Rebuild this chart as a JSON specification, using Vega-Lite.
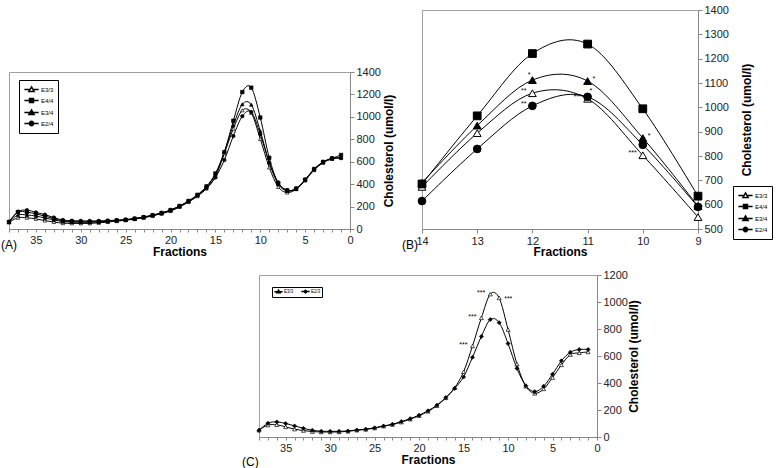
{
  "$schema": "https://vega.github.io/schema/vega-lite/v6.json",
  "padding": {"left": 0, "top": 3, "right": 0, "bottom": 0},
  "background": "white",
  "config": {
    "font": "Liberation Sans",
    "view": {"stroke": "#a0a0a0"},
    "axis": {"labelFont": "Liberation Sans", "labelFontSize": 11, "labelColor": "#222", "titleFont": "Liberation Sans", "titleFontSize": 12, "titleFontWeight": "bold", "titleColor": "black", "domainColor": "#888", "tickColor": "#888", "grid": false, "labelFlush": false, "labelOverlap": false},
    "title": {"font": "Liberation Sans", "fontWeight": "normal", "fontSize": 12, "color": "black"},
    "legend": {"labelFont": "Liberation Sans", "labelColor": "black"}
  },
  "resolve": {"scale": {"shape": "independent", "fill": "independent"}, "legend": {"shape": "independent", "fill": "independent"}},
  "datasets": {
    "A": [
      {"f":38,"s":"E3/3","v":60},{"f":37,"s":"E3/3","v":100},{"f":36,"s":"E3/3","v":100},{"f":35,"s":"E3/3","v":90},{"f":34,"s":"E3/3","v":75},{"f":33,"s":"E3/3","v":62},{"f":32,"s":"E3/3","v":52},{"f":31,"s":"E3/3","v":50},{"f":30,"s":"E3/3","v":50},{"f":29,"s":"E3/3","v":50},{"f":28,"s":"E3/3","v":55},{"f":27,"s":"E3/3","v":62},{"f":26,"s":"E3/3","v":70},{"f":25,"s":"E3/3","v":78},{"f":24,"s":"E3/3","v":88},{"f":23,"s":"E3/3","v":100},{"f":22,"s":"E3/3","v":117},{"f":21,"s":"E3/3","v":137},{"f":20,"s":"E3/3","v":160},{"f":19,"s":"E3/3","v":196},{"f":18,"s":"E3/3","v":240},{"f":17,"s":"E3/3","v":292},{"f":16,"s":"E3/3","v":360},{"f":15,"s":"E3/3","v":465},{"f":14,"s":"E3/3","v":673},{"f":13,"s":"E3/3","v":894},{"f":12,"s":"E3/3","v":1058},{"f":11,"s":"E3/3","v":1035},{"f":10,"s":"E3/3","v":803},{"f":9,"s":"E3/3","v":549},{"f":8,"s":"E3/3","v":375},{"f":7,"s":"E3/3","v":325},{"f":6,"s":"E3/3","v":355},{"f":5,"s":"E3/3","v":432},{"f":4,"s":"E3/3","v":525},{"f":3,"s":"E3/3","v":590},{"f":2,"s":"E3/3","v":625},{"f":1,"s":"E3/3","v":635},
      {"f":38,"s":"E4/4","v":62},{"f":37,"s":"E4/4","v":150},{"f":36,"s":"E4/4","v":150},{"f":35,"s":"E4/4","v":135},{"f":34,"s":"E4/4","v":115},{"f":33,"s":"E4/4","v":92},{"f":32,"s":"E4/4","v":72},{"f":31,"s":"E4/4","v":66},{"f":30,"s":"E4/4","v":64},{"f":29,"s":"E4/4","v":64},{"f":28,"s":"E4/4","v":66},{"f":27,"s":"E4/4","v":70},{"f":26,"s":"E4/4","v":76},{"f":25,"s":"E4/4","v":82},{"f":24,"s":"E4/4","v":92},{"f":23,"s":"E4/4","v":105},{"f":22,"s":"E4/4","v":122},{"f":21,"s":"E4/4","v":142},{"f":20,"s":"E4/4","v":168},{"f":19,"s":"E4/4","v":205},{"f":18,"s":"E4/4","v":250},{"f":17,"s":"E4/4","v":305},{"f":16,"s":"E4/4","v":380},{"f":15,"s":"E4/4","v":495},{"f":14,"s":"E4/4","v":685},{"f":13,"s":"E4/4","v":965},{"f":12,"s":"E4/4","v":1221},{"f":11,"s":"E4/4","v":1260},{"f":10,"s":"E4/4","v":994},{"f":9,"s":"E4/4","v":635},{"f":8,"s":"E4/4","v":410},{"f":7,"s":"E4/4","v":345},{"f":6,"s":"E4/4","v":360},{"f":5,"s":"E4/4","v":440},{"f":4,"s":"E4/4","v":535},{"f":3,"s":"E4/4","v":598},{"f":2,"s":"E4/4","v":630},{"f":1,"s":"E4/4","v":660},
      {"f":38,"s":"E3/4","v":62},{"f":37,"s":"E3/4","v":125},{"f":36,"s":"E3/4","v":125},{"f":35,"s":"E3/4","v":115},{"f":34,"s":"E3/4","v":98},{"f":33,"s":"E3/4","v":82},{"f":32,"s":"E3/4","v":66},{"f":31,"s":"E3/4","v":62},{"f":30,"s":"E3/4","v":60},{"f":29,"s":"E3/4","v":60},{"f":28,"s":"E3/4","v":63},{"f":27,"s":"E3/4","v":68},{"f":26,"s":"E3/4","v":74},{"f":25,"s":"E3/4","v":80},{"f":24,"s":"E3/4","v":90},{"f":23,"s":"E3/4","v":103},{"f":22,"s":"E3/4","v":120},{"f":21,"s":"E3/4","v":140},{"f":20,"s":"E3/4","v":165},{"f":19,"s":"E3/4","v":202},{"f":18,"s":"E3/4","v":247},{"f":17,"s":"E3/4","v":300},{"f":16,"s":"E3/4","v":372},{"f":15,"s":"E3/4","v":485},{"f":14,"s":"E3/4","v":690},{"f":13,"s":"E3/4","v":925},{"f":12,"s":"E3/4","v":1112},{"f":11,"s":"E3/4","v":1108},{"f":10,"s":"E3/4","v":874},{"f":9,"s":"E3/4","v":594},{"f":8,"s":"E3/4","v":400},{"f":7,"s":"E3/4","v":340},{"f":6,"s":"E3/4","v":358},{"f":5,"s":"E3/4","v":438},{"f":4,"s":"E3/4","v":530},{"f":3,"s":"E3/4","v":595},{"f":2,"s":"E3/4","v":628},{"f":1,"s":"E3/4","v":640},
      {"f":38,"s":"E2/4","v":65},{"f":37,"s":"E2/4","v":155},{"f":36,"s":"E2/4","v":168},{"f":35,"s":"E2/4","v":148},{"f":34,"s":"E2/4","v":128},{"f":33,"s":"E2/4","v":102},{"f":32,"s":"E2/4","v":80},{"f":31,"s":"E2/4","v":74},{"f":30,"s":"E2/4","v":72},{"f":29,"s":"E2/4","v":72},{"f":28,"s":"E2/4","v":72},{"f":27,"s":"E2/4","v":75},{"f":26,"s":"E2/4","v":79},{"f":25,"s":"E2/4","v":84},{"f":24,"s":"E2/4","v":94},{"f":23,"s":"E2/4","v":107},{"f":22,"s":"E2/4","v":124},{"f":21,"s":"E2/4","v":144},{"f":20,"s":"E2/4","v":170},{"f":19,"s":"E2/4","v":205},{"f":18,"s":"E2/4","v":248},{"f":17,"s":"E2/4","v":300},{"f":16,"s":"E2/4","v":365},{"f":15,"s":"E2/4","v":460},{"f":14,"s":"E2/4","v":615},{"f":13,"s":"E2/4","v":829},{"f":12,"s":"E2/4","v":1006},{"f":11,"s":"E2/4","v":1043},{"f":10,"s":"E2/4","v":846},{"f":9,"s":"E2/4","v":591},{"f":8,"s":"E2/4","v":415},{"f":7,"s":"E2/4","v":345},{"f":6,"s":"E2/4","v":362},{"f":5,"s":"E2/4","v":440},{"f":4,"s":"E2/4","v":532},{"f":3,"s":"E2/4","v":598},{"f":2,"s":"E2/4","v":630},{"f":1,"s":"E2/4","v":632}
    ],
    "C": [
      {"f":38,"s":"E3/3","v":50},{"f":37,"s":"E3/3","v":88},{"f":36,"s":"E3/3","v":90},{"f":35,"s":"E3/3","v":75},{"f":34,"s":"E3/3","v":58},{"f":33,"s":"E3/3","v":48},{"f":32,"s":"E3/3","v":40},{"f":31,"s":"E3/3","v":37},{"f":30,"s":"E3/3","v":37},{"f":29,"s":"E3/3","v":37},{"f":28,"s":"E3/3","v":42},{"f":27,"s":"E3/3","v":50},{"f":26,"s":"E3/3","v":56},{"f":25,"s":"E3/3","v":66},{"f":24,"s":"E3/3","v":80},{"f":23,"s":"E3/3","v":92},{"f":22,"s":"E3/3","v":110},{"f":21,"s":"E3/3","v":132},{"f":20,"s":"E3/3","v":158},{"f":19,"s":"E3/3","v":190},{"f":18,"s":"E3/3","v":232},{"f":17,"s":"E3/3","v":290},{"f":16,"s":"E3/3","v":365},{"f":15,"s":"E3/3","v":483},{"f":14,"s":"E3/3","v":674},{"f":13,"s":"E3/3","v":882},{"f":12,"s":"E3/3","v":1058},{"f":11,"s":"E3/3","v":1030},{"f":10,"s":"E3/3","v":796},{"f":9,"s":"E3/3","v":541},{"f":8,"s":"E3/3","v":376},{"f":7,"s":"E3/3","v":323},{"f":6,"s":"E3/3","v":356},{"f":5,"s":"E3/3","v":440},{"f":4,"s":"E3/3","v":534},{"f":3,"s":"E3/3","v":610},{"f":2,"s":"E3/3","v":623},{"f":1,"s":"E3/3","v":630},
      {"f":38,"s":"E2/3","v":50},{"f":37,"s":"E2/3","v":102},{"f":36,"s":"E2/3","v":112},{"f":35,"s":"E2/3","v":100},{"f":34,"s":"E2/3","v":82},{"f":33,"s":"E2/3","v":64},{"f":32,"s":"E2/3","v":50},{"f":31,"s":"E2/3","v":43},{"f":30,"s":"E2/3","v":42},{"f":29,"s":"E2/3","v":42},{"f":28,"s":"E2/3","v":45},{"f":27,"s":"E2/3","v":52},{"f":26,"s":"E2/3","v":58},{"f":25,"s":"E2/3","v":68},{"f":24,"s":"E2/3","v":82},{"f":23,"s":"E2/3","v":95},{"f":22,"s":"E2/3","v":114},{"f":21,"s":"E2/3","v":136},{"f":20,"s":"E2/3","v":162},{"f":19,"s":"E2/3","v":194},{"f":18,"s":"E2/3","v":236},{"f":17,"s":"E2/3","v":292},{"f":16,"s":"E2/3","v":360},{"f":15,"s":"E2/3","v":445},{"f":14,"s":"E2/3","v":590},{"f":13,"s":"E2/3","v":745},{"f":12,"s":"E2/3","v":870},{"f":11,"s":"E2/3","v":847},{"f":10,"s":"E2/3","v":692},{"f":9,"s":"E2/3","v":508},{"f":8,"s":"E2/3","v":380},{"f":7,"s":"E2/3","v":336},{"f":6,"s":"E2/3","v":376},{"f":5,"s":"E2/3","v":465},{"f":4,"s":"E2/3","v":564},{"f":3,"s":"E2/3","v":628},{"f":2,"s":"E2/3","v":648},{"f":1,"s":"E2/3","v":648}
    ],
    "annB": [
      {"f":12,"s":"E3/4","v":1112,"t":"*","side":"ul"},
      {"f":11,"s":"E3/4","v":1108,"t":"*","side":"r"},
      {"f":12,"s":"E3/3","v":1058,"t":"**","side":"l"},
      {"f":12,"s":"E2/4","v":1006,"t":"**","side":"l"},
      {"f":11,"s":"E2/4","v":1043,"t":"*","side":"ur"},
      {"f":11,"s":"E3/3","v":1035,"t":"***","side":"l"},
      {"f":10,"s":"E3/4","v":874,"t":"*","side":"r"},
      {"f":10,"s":"E3/3","v":803,"t":"***","side":"l"}
    ],
    "annC": [
      {"f":14,"s":"E3/3","v":674,"t":"***","side":"l"},
      {"f":13,"s":"E3/3","v":882,"t":"***","side":"l"},
      {"f":12,"s":"E3/3","v":1058,"t":"***","side":"l"},
      {"f":11,"s":"E3/3","v":1030,"t":"***","side":"r"}
    ]
  },
  "vconcat": [
    {
      "resolve": {"scale": {"shape": "independent", "fill": "independent"}, "legend": {"shape": "independent", "fill": "independent"}},
      "hconcat": [
        {
          "resolve": {"scale": {"shape": "independent", "fill": "independent"}, "legend": {"shape": "independent", "fill": "independent"}},
          "vconcat": [
            {"width": 1, "height": 55, "data": {"values": []}, "mark": "point", "view": {"stroke": null}},
            {
              "width": 341, "height": 157,
              "title": {"text": "(A)", "orient": "bottom", "anchor": "start", "frame": "group", "dx": -8, "dy": -17, "offset": 0},
              "data": {"name": "A"},
              "resolve": {"scale": {"shape": "independent", "fill": "independent"}},
              "encoding": {
                "x": {"field": "f", "type": "quantitative", "scale": {"domain": [0, 38], "reverse": true, "nice": false, "zero": false},
                      "axis": {"title": "Fractions", "values": [0,1,2,3,4,5,6,7,8,9,10,11,12,13,14,15,16,17,18,19,20,21,22,23,24,25,26,27,28,29,30,31,32,33,34,35,36,37,38], "labelExpr": "datum.value % 5 === 0 ? datum.label : ''", "tickSize": 3, "labelPadding": 2, "titlePadding": 1}},
                "y": {"field": "v", "type": "quantitative", "scale": {"domain": [0, 1400], "nice": false},
                      "axis": {"orient": "right", "format": "d", "title": "Cholesterol (umol/l)", "values": [0,200,400,600,800,1000,1200,1400], "tickSize": 4, "labelPadding": 2, "titleAngle": -90, "titleBaseline": "top", "titlePadding": 3}}
              },
              "layer": [
                {"mark": {"type": "line", "interpolate": "cardinal", "color": "black", "strokeWidth": 1}, "encoding": {"detail": {"field": "s"}}},
                {"mark": {"type": "point", "size": 12, "stroke": "black", "strokeWidth": 0.7, "opacity": 1},
                 "encoding": {
                   "shape": {"field": "s", "type": "nominal", "scale": {"domain": ["E3/3","E4/4","E3/4","E2/4"], "range": ["triangle-up","square","triangle-up","circle"]}, "legend": null},
                   "fill": {"field": "s", "type": "nominal", "scale": {"domain": ["E3/3","E4/4","E3/4","E2/4"], "range": ["white","black","black","black"]}, "legend": null}
                 }},
                {"transform": [{"filter": "false"}],
                 "mark": {"type": "point", "stroke": "black", "strokeWidth": 0.7, "opacity": 1},
                 "encoding": {
                   "shape": {"field": "s", "type": "nominal",
                             "scale": {"domain": ["E3/3","E4/4","E3/4","E2/4"], "range": ["M-1.5,0H-0.3M0.3,0H1.5M0,-0.55L0.55,0.4L-0.55,0.4Z","M-1.5,0H1.5M-0.42,-0.42H0.42V0.42H-0.42Z","M-1.5,0H-0.3M0.3,0H1.5M0,-0.55L0.55,0.4L-0.55,0.4Z","M-1.5,0H1.5M-0.46,0A0.46,0.46,0,1,0,0.46,0A0.46,0.46,0,1,0,-0.46,0Z"]},
                             "legend": {"title": null, "orient": "none", "legendX": 10, "legendY": 8, "strokeColor": "black", "fillColor": "white", "padding": 4, "labelFontSize": 6, "symbolSize": 90, "rowPadding": 0, "labelOffset": 4, "symbolOffset": 3,
                                        "encode": {"symbols": {"update": {"stroke": {"value": "black"}, "strokeWidth": {"value": 0.7}, "opacity": {"value": 1}}}}}},
                   "fill": {"field": "s", "type": "nominal", "scale": {"domain": ["E3/3","E4/4","E3/4","E2/4"], "range": ["white","black","black","black"]},
                            "legend": {"title": null, "orient": "none", "legendX": 10, "legendY": 8, "strokeColor": "black", "fillColor": "white", "padding": 4, "labelFontSize": 6, "symbolSize": 90, "rowPadding": 0, "labelOffset": 4, "symbolOffset": 3,
                                       "encode": {"symbols": {"update": {"stroke": {"value": "black"}, "strokeWidth": {"value": 0.7}, "opacity": {"value": 1}}}}}}
                 }}
              ]
            }
          ],
          "spacing": 0
        },
        {
          "width": 276, "height": 219,
          "title": {"text": "(B)", "orient": "bottom", "anchor": "start", "frame": "group", "dx": -20, "dy": -17, "offset": 0},
          "data": {"name": "A"},
          "resolve": {"scale": {"shape": "independent", "fill": "independent"}},
          "encoding": {
            "x": {"field": "f", "type": "quantitative", "scale": {"domain": [9, 14], "reverse": true, "nice": false, "zero": false},
                  "axis": {"title": "Fractions", "values": [9,10,11,12,13,14], "tickSize": 4, "labelPadding": 2, "titlePadding": 0}},
            "y": {"field": "v", "type": "quantitative", "scale": {"domain": [500, 1400], "nice": false, "zero": false},
                  "axis": {"orient": "right", "format": "d", "title": "Cholesterol (umol/l)", "values": [500,600,700,800,900,1000,1100,1200,1300,1400], "tickSize": 4, "labelPadding": 2, "titleAngle": -90, "titleBaseline": "top", "titlePadding": 13}}
          },
          "layer": [
            {"transform": [{"filter": "datum.f >= 9 && datum.f <= 14"}],
             "mark": {"type": "line", "interpolate": "cardinal", "color": "black", "strokeWidth": 1}, "encoding": {"detail": {"field": "s"}}},
            {"transform": [{"filter": "datum.f >= 9 && datum.f <= 14"}],
             "mark": {"type": "point", "size": 60, "stroke": "black", "strokeWidth": 1, "opacity": 1},
             "encoding": {
               "shape": {"field": "s", "type": "nominal", "scale": {"domain": ["E3/3","E4/4","E3/4","E2/4"], "range": ["triangle-up","square","triangle-up","circle"]}, "legend": null},
               "fill": {"field": "s", "type": "nominal", "scale": {"domain": ["E3/3","E4/4","E3/4","E2/4"], "range": ["white","black","black","black"]}, "legend": null}
             }},
            {"transform": [{"filter": "false"}],
             "mark": {"type": "point", "stroke": "black", "strokeWidth": 0.7, "opacity": 1},
             "encoding": {
               "shape": {"field": "s", "type": "nominal",
                         "scale": {"domain": ["E3/3","E4/4","E3/4","E2/4"], "range": ["M-1.5,0H-0.3M0.3,0H1.5M0,-0.55L0.55,0.4L-0.55,0.4Z","M-1.5,0H1.5M-0.42,-0.42H0.42V0.42H-0.42Z","M-1.5,0H-0.3M0.3,0H1.5M0,-0.55L0.55,0.4L-0.55,0.4Z","M-1.5,0H1.5M-0.46,0A0.46,0.46,0,1,0,0.46,0A0.46,0.46,0,1,0,-0.46,0Z"]},
                         "legend": {"title": null, "orient": "none", "legendX": 311, "legendY": 176, "strokeColor": "black", "fillColor": "white", "padding": 4, "labelFontSize": 6, "symbolSize": 90, "rowPadding": 0, "labelOffset": 4, "symbolOffset": 3,
                                    "encode": {"symbols": {"update": {"stroke": {"value": "black"}, "strokeWidth": {"value": 0.7}, "opacity": {"value": 1}}}}}},
               "fill": {"field": "s", "type": "nominal", "scale": {"domain": ["E3/3","E4/4","E3/4","E2/4"], "range": ["white","black","black","black"]},
                        "legend": {"title": null, "orient": "none", "legendX": 311, "legendY": 176, "strokeColor": "black", "fillColor": "white", "padding": 4, "labelFontSize": 6, "symbolSize": 90, "rowPadding": 0, "labelOffset": 4, "symbolOffset": 3,
                                   "encode": {"symbols": {"update": {"stroke": {"value": "black"}, "strokeWidth": {"value": 0.7}, "opacity": {"value": 1}}}}}}
             }},
            {"data": {"name": "annB"}, "transform": [{"filter": "datum.side === 'l'"}],
             "mark": {"type": "text", "align": "right", "baseline": "middle", "dx": -6, "dy": -2, "fontSize": 7, "color": "black"},
             "encoding": {"text": {"field": "t"}}},
            {"data": {"name": "annB"}, "transform": [{"filter": "datum.side === 'r'"}],
             "mark": {"type": "text", "align": "left", "baseline": "middle", "dx": 5, "dy": -2, "fontSize": 7, "color": "black"},
             "encoding": {"text": {"field": "t"}}},
            {"data": {"name": "annB"}, "transform": [{"filter": "datum.side === 'ul'"}],
             "mark": {"type": "text", "align": "right", "baseline": "middle", "dx": -2, "dy": -5, "fontSize": 7, "color": "black"},
             "encoding": {"text": {"field": "t"}}},
            {"data": {"name": "annB"}, "transform": [{"filter": "datum.side === 'ur'"}],
             "mark": {"type": "text", "align": "left", "baseline": "middle", "dx": 2, "dy": -6, "fontSize": 7, "color": "black"},
             "encoding": {"text": {"field": "t"}}}
          ]
        }
      ],
      "spacing": 6
    },
    {
      "resolve": {"scale": {"shape": "independent", "fill": "independent"}, "legend": {"shape": "independent", "fill": "independent"}},
      "hconcat": [
        {"width": 232, "height": 1, "data": {"values": []}, "mark": "point", "view": {"stroke": null}},
        {
          "width": 338, "height": 162,
          "title": {"text": "(C)", "orient": "bottom", "anchor": "start", "frame": "group", "dx": -17, "dy": -8, "offset": 0},
          "data": {"name": "C"},
          "resolve": {"scale": {"shape": "independent", "fill": "independent"}},
          "encoding": {
            "x": {"field": "f", "type": "quantitative", "scale": {"domain": [0, 38], "reverse": true, "nice": false, "zero": false},
                  "axis": {"title": "Fractions", "values": [0,1,2,3,4,5,6,7,8,9,10,11,12,13,14,15,16,17,18,19,20,21,22,23,24,25,26,27,28,29,30,31,32,33,34,35,36,37,38], "labelExpr": "datum.value % 5 === 0 ? datum.label : ''", "tickSize": 3, "labelPadding": 2, "titlePadding": 1}},
            "y": {"field": "v", "type": "quantitative", "scale": {"domain": [0, 1200], "nice": false},
                  "axis": {"orient": "right", "format": "d", "title": "Cholesterol (umol/l)", "values": [0,200,400,600,800,1000,1200], "tickSize": 4, "labelPadding": 2, "titleAngle": -90, "titleBaseline": "top", "titlePadding": 1}}
          },
          "layer": [
            {"mark": {"type": "line", "interpolate": "cardinal", "color": "black", "strokeWidth": 1}, "encoding": {"detail": {"field": "s"}}},
            {"mark": {"type": "point", "size": 16, "stroke": "black", "strokeWidth": 0.7, "opacity": 1},
             "encoding": {
               "shape": {"field": "s", "type": "nominal", "scale": {"domain": ["E3/3","E2/3"], "range": ["triangle-up","diamond"]}, "legend": null},
               "fill": {"field": "s", "type": "nominal", "scale": {"domain": ["E3/3","E2/3"], "range": ["white","black"]}, "legend": null}
             }},
            {"transform": [{"filter": "false"}],
             "mark": {"type": "point", "stroke": "black", "strokeWidth": 0.6, "opacity": 1},
             "encoding": {
               "shape": {"field": "s", "type": "nominal",
                         "scale": {"domain": ["E3/3","E2/3"], "range": ["M-1.5,0H-0.3M0.3,0H1.5M0,-0.55L0.55,0.4L-0.55,0.4Z","M-1.5,0H-0.5M0.5,0H1.5M0,-0.5L0.5,0L0,0.5L-0.5,0Z"]},
                         "legend": {"title": null, "orient": "none", "direction": "horizontal", "columns": 2, "legendX": 13, "legendY": 12, "strokeColor": "black", "fillColor": "white", "padding": 1, "labelFontSize": 4.5, "symbolSize": 30, "columnPadding": 4, "labelOffset": 2, "symbolOffset": 2,
                                    "encode": {"symbols": {"update": {"stroke": {"value": "black"}, "strokeWidth": {"value": 0.6}, "opacity": {"value": 1}}}}}},
               "fill": {"field": "s", "type": "nominal", "scale": {"domain": ["E3/3","E2/3"], "range": ["white","black"]},
                        "legend": {"title": null, "orient": "none", "direction": "horizontal", "columns": 2, "legendX": 13, "legendY": 12, "strokeColor": "black", "fillColor": "white", "padding": 1, "labelFontSize": 4.5, "symbolSize": 30, "columnPadding": 4, "labelOffset": 2, "symbolOffset": 2,
                                   "encode": {"symbols": {"update": {"stroke": {"value": "black"}, "strokeWidth": {"value": 0.6}, "opacity": {"value": 1}}}}}}
             }},
            {"data": {"name": "annC"}, "transform": [{"filter": "datum.side === 'l'"}],
             "mark": {"type": "text", "align": "right", "baseline": "middle", "dx": -5, "dy": -1, "fontSize": 7, "color": "black"},
             "encoding": {"text": {"field": "t"}}},
            {"data": {"name": "annC"}, "transform": [{"filter": "datum.side === 'r'"}],
             "mark": {"type": "text", "align": "left", "baseline": "middle", "dx": 5, "dy": 1, "fontSize": 7, "color": "black"},
             "encoding": {"text": {"field": "t"}}}
          ]
        }
      ],
      "spacing": 0
    }
  ],
  "spacing": 10
}
